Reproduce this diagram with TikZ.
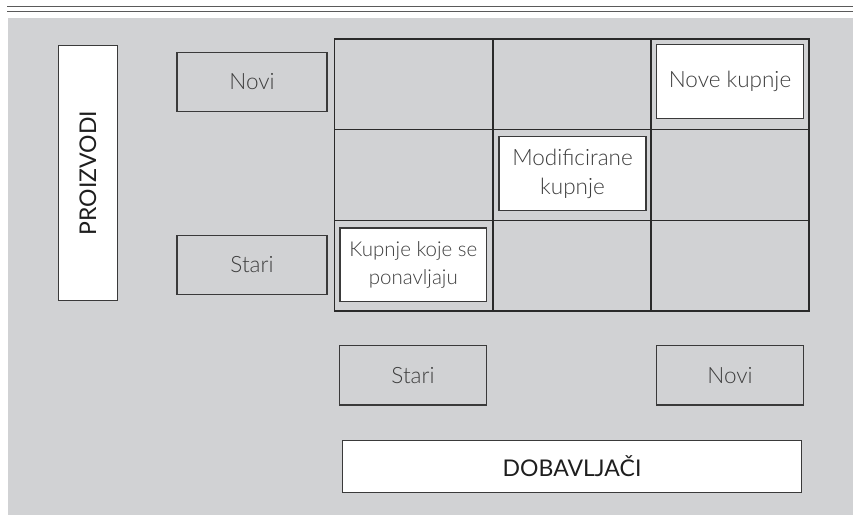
\documentclass[tikz,border=0pt]{standalone}
\usepackage{fontspec}
\setmainfont{Lato}[UprightFont={* Light}]
\newfontfamily\headfont{Lato}
\definecolor{bg}{HTML}{D1D2D4}
\definecolor{rule}{HTML}{5A5A5A}
\definecolor{edge}{HTML}{3A3A3A}
\definecolor{gridc}{HTML}{2A2A2A}
\definecolor{txt}{HTML}{3E3E3E}
\definecolor{htxt}{HTML}{1E1E1E}
\tikzset{
  lbl/.style={draw=edge, line width=1.1pt, rectangle, inner sep=0pt, align=center,
    text=txt, font=\fontsize{22.5}{28.5}\selectfont},
  graybox/.style={lbl},
  whitebox/.style={lbl, fill=white},
  headbox/.style={whitebox, text=htxt, font=\headfont\fontsize{23}{28.5}\selectfont},
  cell/.style={draw=gridc, line width=1.5pt, rectangle, inner sep=0pt,
    minimum width=158pt, minimum height=90.6pt},
  toprule/.style={draw=rule, line width=1.3pt}
}
\begin{document}
\begin{tikzpicture}[x=1pt,y=-1pt]
\useasboundingbox (0,0) rectangle (853,515);
\fill[bg] (8,17.5) rectangle (853,515);
\coordinate (r1a) at (7,6.7); \coordinate (r1b) at (853,6.7);
\coordinate (r2a) at (7,11.3); \coordinate (r2b) at (853,11.3);
\draw[toprule] (r1a) -- (r1b);
\draw[toprule] (r2a) -- (r2b);
% grid
\foreach \i/\x in {1/413.5,2/572,3/730}{
  \foreach \j/\y in {1/84.3,2/175,3/265.8}{
    \node[cell] (c\i\j) at (\x,\y) {};
  }
}
\node[headbox, minimum width=255.5pt, minimum height=59.5pt, rotate=90] (proiz) at (88,173) {PROIZVODI};
\node[graybox, minimum width=150pt, minimum height=58.7pt] (novi1) at (252,81.7) {Novi};
\node[graybox, minimum width=150pt, minimum height=59pt] (stari1) at (252,264.8) {Stari};
\node[whitebox, minimum width=146.6pt, minimum height=73.6pt] (nove) at (730,81.5) {Nove kupnje};
\node[whitebox, minimum width=147pt, minimum height=74pt] (modif) at (572.5,173.7) {Modificirane\\kupnje};
\node[whitebox, minimum width=146.7pt, minimum height=73.7pt, font=\fontsize{20.5}{28.5}\selectfont] (kup) at (413.3,264.8) {Kupnje koje se\\ponavljaju};
\node[graybox, minimum width=147.4pt, minimum height=59.3pt] (stari2) at (413,375.3) {Stari};
\node[graybox, minimum width=147.4pt, minimum height=59.3pt] (novi2) at (730,375.3) {Novi};
\node[headbox, minimum width=458.6pt, minimum height=51.6pt] (dob) at (572,466.5) {DOBAVLJAČI};
\end{tikzpicture}
\end{document}
